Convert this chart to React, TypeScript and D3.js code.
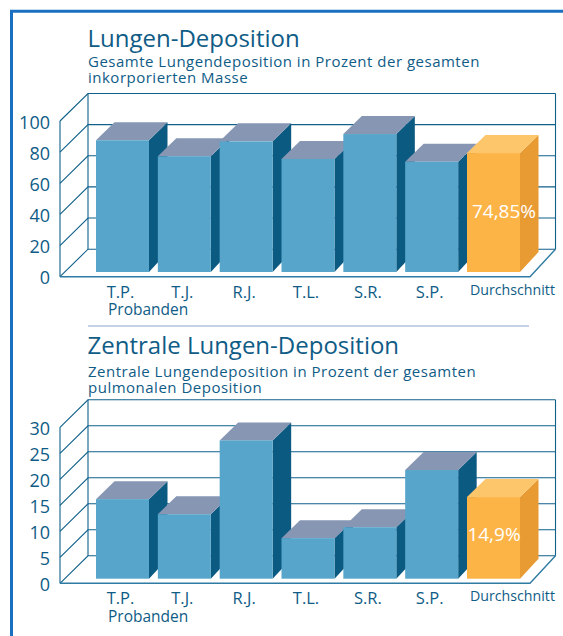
import React from 'react';
import * as d3 from 'd3';

const categories = ['T.P.', 'T.J.', 'R.J.', 'T.L.', 'S.R.', 'S.P.', 'Durchschnitt'];
const totalValues = [84.6, 74.3, 83.9, 72.6, 88.6, 70.8, 76.4];
const centralValues = [15.3, 12.4, 26.6, 7.8, 9.9, 20.9, 15.7];
const totalTicks = [0, 20, 40, 60, 80, 100];
const centralTicks = [0, 5, 10, 15, 20, 25, 30];

const FONT = '"Open Sans", sans-serif';
const TEXT = '#0f5c86';
const LINE = '#10608a';
const BLUE = { front: '#57a5cb', side: '#0b5a82', top: '#8696b3' };
const ORANGE = { front: '#fdb447', side: '#e89b33', top: '#fec66b' };

const DEPTH_X = 28; // wall depth
const DEPTH_Y = 27.5;
const BAR_DX = 18.5; // bar depth
const BAR_DY = 18;

const outline = d3.line();

type ChartProps = {
  title: string;
  sub: string[];
  titleY: number;
  subY: number;
  values: number[];
  ticks: number[];
  floorY: number; // front floor line
  span: number; // height of the axis in px
  baseY: number; // where the bars stand
  avgLabel: string;
  avgLabelX: number;
  avgLabelY: number;
};

function Chart({ title, sub, titleY, subY, values, ticks, floorY, span, baseY, avgLabel, avgLabelX, avgLabelY }: ChartProps) {
  const max = d3.max(ticks) as number;
  const y = d3.scaleLinear().domain([0, max]).range([floorY, floorY - span]);
  const barY = d3.scaleLinear().domain([0, max]).range([baseY, baseY - span]);
  const x = d3.scaleBand().domain(categories).range([96, 520]).paddingInner(0.143).paddingOuter(0);
  const left = 60;
  const right = 530;
  const labelY = floorY + 21;

  return (
    <g>
      <text x={87.5} y={titleY} fontSize={24} fill={TEXT} fontFamily={FONT}>{title}</text>
      {sub.map((s, i) => (
        <text key={s} x={88} y={subY + i * 16} fontSize={15} letterSpacing={0.5} fill={TEXT} fontFamily={FONT}>{s}</text>
      ))}

      {/* Wand und Gitter */}
      {ticks.map((t) => (
        <g key={t}>
          <path
            d={outline([[left, y(t)], [left + DEPTH_X, y(t) - DEPTH_Y], [right + 25.5, y(t) - DEPTH_Y]]) as string}
            fill="none"
            stroke={LINE}
            strokeWidth={1.1}
          />
          <text x={50} y={y(t) + 7.5} textAnchor="end" fontSize={18} fill={TEXT} fontFamily={FONT}>{t}</text>
        </g>
      ))}
      <line x1={left} x2={left} y1={y(0)} y2={y(max)} stroke={LINE} strokeWidth={1.1} />
      <line x1={left + DEPTH_X} x2={left + DEPTH_X} y1={y(0) - DEPTH_Y} y2={y(max) - DEPTH_Y} stroke={LINE} strokeWidth={1.1} />
      <line x1={right + 25.5} x2={right + 25.5} y1={y(0) - DEPTH_Y} y2={y(max) - DEPTH_Y} stroke={LINE} strokeWidth={1.1} />
      <path
        d={outline([[left, y(0)], [right, y(0)], [right + 25.5, y(0) - DEPTH_Y]]) as string}
        fill="none"
        stroke="#2f7ba3"
        strokeWidth={1.4}
      />

      {/* Balken */}
      {values.map((v, i) => {
        const cat = categories[i];
        const bx = x(cat) as number;
        const bw = x.bandwidth();
        const top = barY(v);
        const c = i === values.length - 1 ? ORANGE : BLUE;
        return (
          <g key={cat}>
            <path
              fill={c.side}
              d={`${outline([[bx + bw, baseY], [bx + bw + BAR_DX, baseY - BAR_DY - 2], [bx + bw + BAR_DX, top - BAR_DY], [bx + bw, top]])}Z`}
            />
            <path
              fill={c.top}
              d={`${outline([[bx, top], [bx + BAR_DX, top - BAR_DY], [bx + bw + BAR_DX, top - BAR_DY], [bx + bw, top]])}Z`}
            />
            <rect x={bx} y={top} width={bw} height={baseY - top} fill={c.front} />
          </g>
        );
      })}

      {categories.map((cat, i) =>
        i < categories.length - 1 ? (
          <text key={cat} x={(x(cat) as number) + x.bandwidth() / 2 - 2} y={labelY} textAnchor="middle" fontSize={16.5} fill={TEXT} fontFamily={FONT}>
            {cat}
          </text>
        ) : (
          <text key={cat} x={512.5} y={labelY - 3} textAnchor="middle" fontSize={14.2} fill={TEXT} fontFamily={FONT}>
            {cat}
          </text>
        ),
      )}
      <text x={108} y={labelY + 17.5} fontSize={15.5} fill={TEXT} fontFamily={FONT}>Probanden</text>
      <text x={avgLabelX} y={avgLabelY} textAnchor="middle" fontSize={19} fill="#fff" fontFamily={FONT}>{avgLabel}</text>
    </g>
  );
}

export default function App() {
  return (
    <svg width={563} height={636} style={{ position: 'absolute', left: 0, top: 0, display: 'block', background: '#fff' }}>
      <path d="M563,11.2 H11.5 V636" fill="none" stroke="#1a6fc0" strokeWidth={3} />
      <Chart
        title="Lungen-Deposition"
        sub={['Gesamte Lungendeposition in Prozent der gesamten', 'inkorporierten Masse']}
        titleY={47}
        subY={66.7}
        values={totalValues}
        ticks={totalTicks}
        floorY={276.7}
        span={155.7}
        baseY={272}
        avgLabel="74,85%"
        avgLabelX={504}
        avgLabelY={218}
      />
      <line x1={88} x2={529} y1={326} y2={326} stroke="#8fa3cc" strokeWidth={1.2} />
      <Chart
        title="Zentrale Lungen-Deposition"
        sub={['Zentrale Lungendeposition in Prozent der gesamten', 'pulmonalen Deposition']}
        titleY={354}
        subY={376.7}
        values={centralValues}
        ticks={centralTicks}
        floorY={583.3}
        span={156}
        baseY={578.7}
        avgLabel="14,9%"
        avgLabelX={494}
        avgLabelY={541}
      />
    </svg>
  );
}
